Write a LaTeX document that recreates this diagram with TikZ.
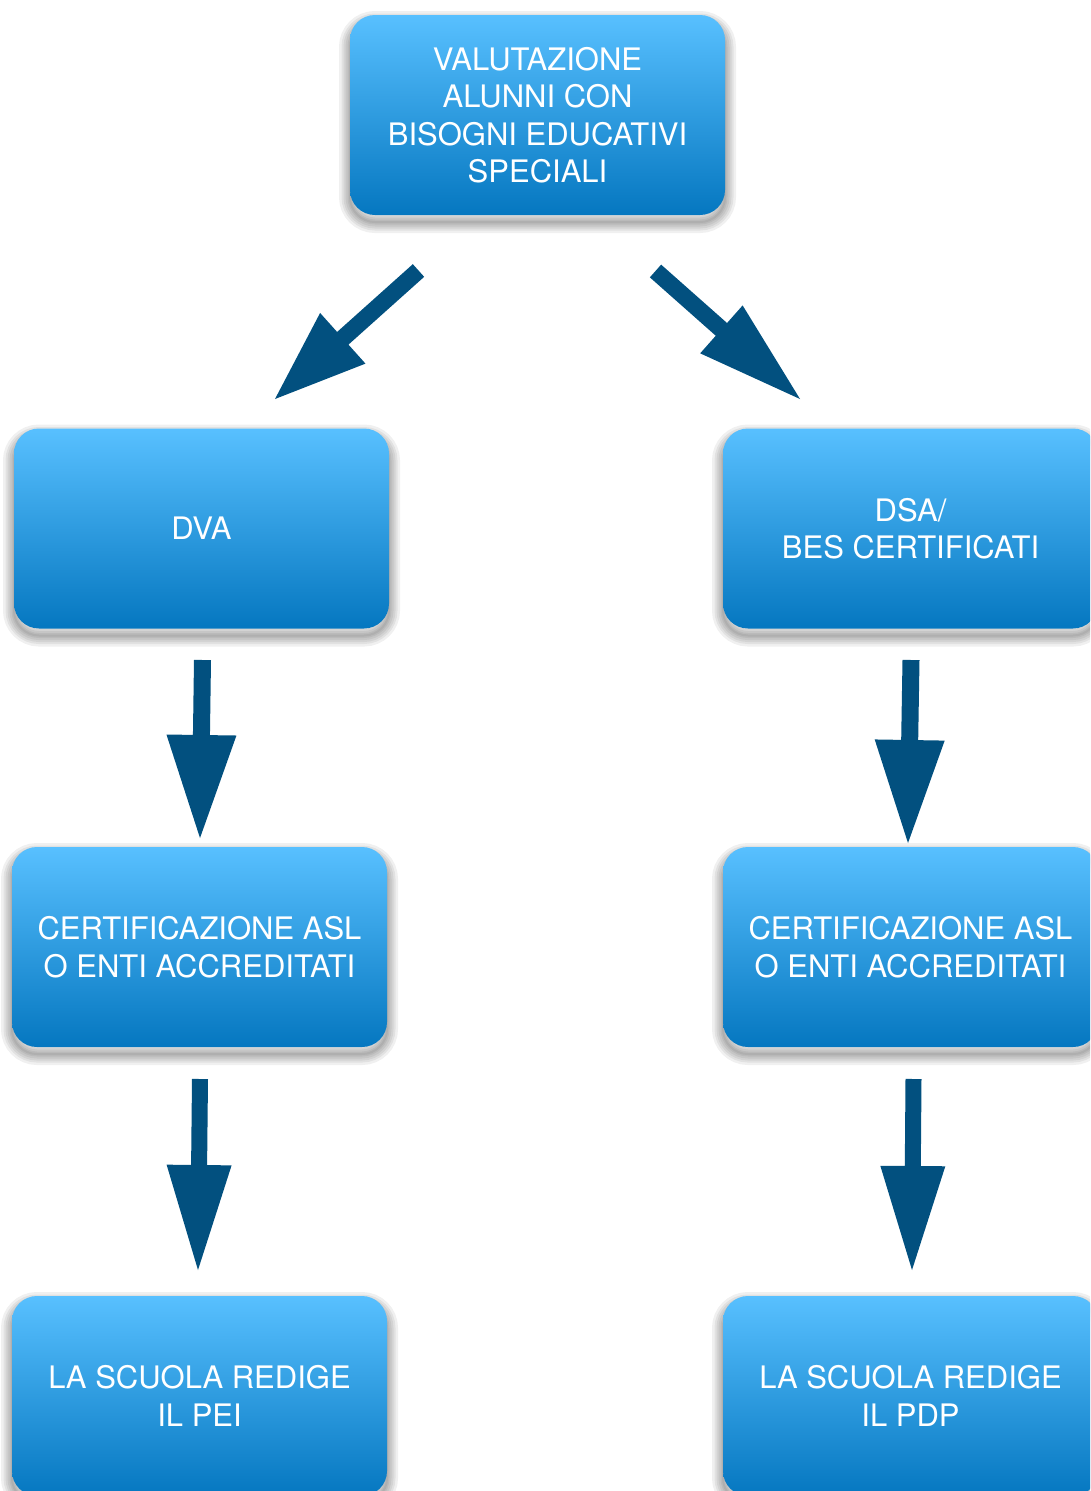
\documentclass[tikz,border=0pt]{standalone}
\usepackage{fontspec}
\setmainfont{TeX Gyre Heros}
\usetikzlibrary{calc}

\definecolor{boxtop}{HTML}{58C0FF}
\definecolor{boxbottom}{HTML}{0577C0}
\definecolor{arrowblue}{HTML}{02507F}

% Block arrow from #1 (tail) to #2 (tip): shaft half width #3,
% head half width #4, head length #5
\newcommand\blockarrow[5]{%
  \path ($(#2)!#5!(#1)$) coordinate (#1-base);
  \fill[arrowblue]
    ($(#1)!#3!90:(#2)$) -- ($(#1-base)!#3!90:(#2)$) --
    ($(#1-base)!#4!90:(#2)$) -- (#2) --
    ($(#1-base)!#4!-90:(#2)$) -- ($(#1-base)!#3!-90:(#2)$) --
    ($(#1)!#3!-90:(#2)$) -- cycle;}

\tikzset{
  % one ring of the soft drop shadow
  shadowlayer/.style={preaction={draw=black, draw opacity=0.06,
      line width=#1, transform canvas={yshift=-7pt}}},
  stepbox/.style={
    shape=rectangle, rounded corners=25pt,
    minimum width=375pt, minimum height=200pt, inner sep=0pt,
    shadowlayer=22pt, shadowlayer=17pt, shadowlayer=13pt,
    shadowlayer=9pt, shadowlayer=5pt, shadowlayer=2pt,
    top color=boxtop, bottom color=boxbottom, draw=none,
    text=white, align=center,
    font=\fontsize{31}{37.5}\selectfont},
}

\begin{document}
\begin{tikzpicture}[x=1pt, y=-1pt]
  \clip (0,0) rectangle (1090,1491);
  \fill[white] (0,0) rectangle (1090,1491);

  % boxes
  \node[stepbox] (bes) at (537.5,115)
    {VALUTAZIONE\\ALUNNI CON\\BISOGNI EDUCATIVI\\SPECIALI};
  \node[stepbox] (dva) at (201.5,528.5) {DVA};
  \node[stepbox] (dsa) at (910.5,528.5) {DSA/\\BES CERTIFICATI};
  \node[stepbox] (certl) at (199.5,947)
    {CERTIFICAZIONE ASL\\O ENTI ACCREDITATI};
  \node[stepbox] (certr) at (910.5,947)
    {CERTIFICAZIONE ASL\\O ENTI ACCREDITATI};
  \node[stepbox] (pei) at (199.5,1396) {LA SCUOLA REDIGE\\IL PEI};
  \node[stepbox] (pdp) at (910.5,1396) {LA SCUOLA REDIGE\\IL PDP};

  % arrow ends
  \coordinate (a1t) at (418.5,270.5);  \coordinate (a1h) at (275,399);
  \coordinate (a2t) at (655.5,271);    \coordinate (a2h) at (800,399);
  \coordinate (a3t) at (202.5,660);    \coordinate (a3h) at (200,838);
  \coordinate (a4t) at (911,660);      \coordinate (a4h) at (908,843);
  \coordinate (a5t) at (200,1079);     \coordinate (a5h) at (198,1270);
  \coordinate (a6t) at (913.5,1079);   \coordinate (a6h) at (912,1270);

  % arrows
  \blockarrow{a1t}{a1h}{8.5pt}{34pt}{91pt}
  \blockarrow{a2t}{a2h}{8.5pt}{32pt}{105pt}
  \blockarrow{a3t}{a3h}{8.5pt}{35pt}{103pt}
  \blockarrow{a4t}{a4h}{8.5pt}{35pt}{103pt}
  \blockarrow{a5t}{a5h}{8pt}{32.5pt}{105pt}
  \blockarrow{a6t}{a6h}{8pt}{32.5pt}{104pt}
\end{tikzpicture}
\end{document}
